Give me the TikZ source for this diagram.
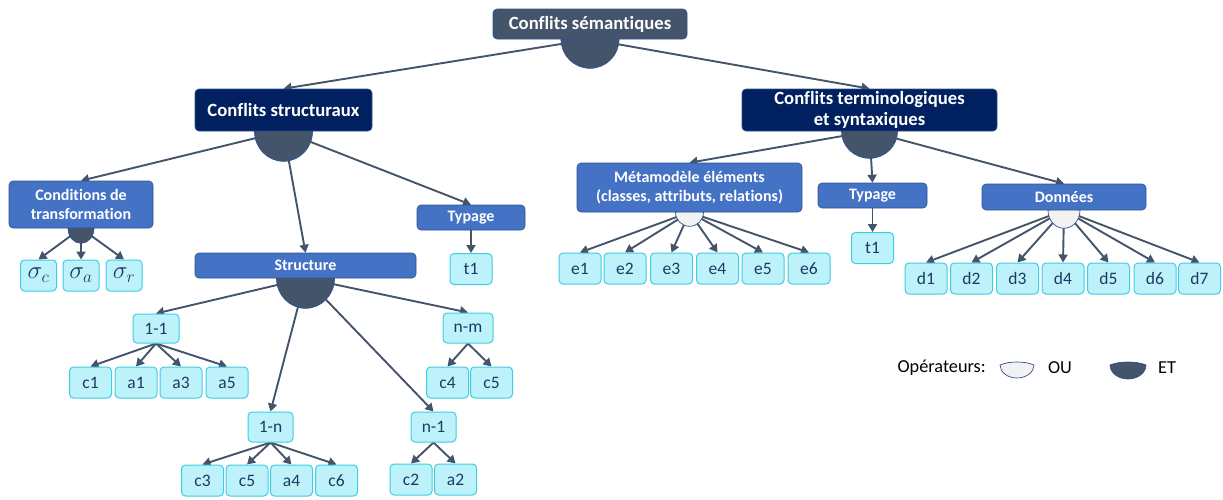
\documentclass[tikz,border=0pt]{standalone}
\usepackage{fontspec}
\setmainfont{Carlito}[Ligatures=NoCommon]
\usepackage{xcolor}
\usetikzlibrary{positioning}
\usetikzlibrary{arrows.meta}
\usetikzlibrary{backgrounds}

\definecolor{ardoise}{HTML}{44546A}
\definecolor{marine}{HTML}{002060}
\definecolor{bleu}{HTML}{4472C4}
\definecolor{bord}{HTML}{2F528F}
\definecolor{cyanclair}{HTML}{BEF2FA}
\definecolor{cyanbord}{HTML}{3ECDE6}
\definecolor{texte}{HTML}{1F3864}
\definecolor{gris}{HTML}{F2F2F2}

\begin{document}
\begin{tikzpicture}[x=1pt, y=-1pt]
	\tikzstyle{boite} = [draw=bord, rounded corners=4pt, inner sep=0pt, align=center, line width=0.6pt]
	\tikzstyle{racine} = [boite, fill=ardoise, text=white, font=\bfseries\fontsize{18.7}{21}\selectfont]
	\tikzstyle{conflit} = [boite, fill=marine, text=white, font=\bfseries\fontsize{18.7}{21}\selectfont]
	\tikzstyle{categorie} = [boite, fill=bleu, text=white, font=\bfseries\fontsize{16}{19.5}\selectfont]
	\tikzstyle{feuille} = [boite, draw=cyanbord, fill=cyanclair, text=texte, line width=1pt, minimum width=42pt, minimum height=31pt, font=\fontsize{17.5}{20}\selectfont]
	\tikzstyle{sigma} = [feuille, minimum width=36pt, font=\fontsize{23}{26}\selectfont]
	\tikzstyle{fleche} = [-{Triangle[length=8pt, width=9pt]}, draw=ardoise, line width=1.9pt]
	\tikzstyle{legende} = [font=\fontsize{18.3}{21}\selectfont]
	\tikzset{pics/operateur/.style n args={4}{code={
		\draw[fill=#4, draw=bord, line width=0.7pt] (-#1,0) .. controls (-#1/2,-#3) and (#1/2,-#3) .. (#1,0)
			arc[start angle=0, end angle=180, x radius=#1, y radius=#2] -- cycle;}}}

	\useasboundingbox (0,0) rectangle (1223,499);

	% niveaux superieurs
	\node [racine, minimum width=194pt, minimum height=30pt] (semant) at (590,24) {Conflits sémantiques};
	\node [conflit, minimum width=177pt, minimum height=42pt] (struct) at (283.5,110) {Conflits structuraux};
	\node [conflit, minimum width=255pt, minimum height=42pt] (termino) at (869.5,110) {Conflits terminologiques\\et syntaxiques};

	% conflits structuraux
	\node [categorie, minimum width=144pt, minimum height=47pt] (condit) at (81,204.5) {Conditions de\\transformation};
	\node [categorie, minimum width=221pt, minimum height=25pt] (structure) at (305.5,265.5) {Structure};
	\node [categorie, minimum width=108pt, minimum height=25pt] (typage) at (471,217.5) {Typage};

	\node [sigma] (sigc) at (38.5,275.5) {$\sigma_c$};
	\node [sigma] (siga) at (81,275.5) {$\sigma_a$};
	\node [sigma] (sigr) at (124,275.5) {$\sigma_r$};
	\node [feuille] (t1) at (471,269) {t1};

	\node [feuille, minimum width=46pt, minimum height=29pt] (n11) at (156,328.5) {1-1};
	\node [feuille, minimum width=45pt, minimum height=30pt] (n1n) at (270.5,427) {1-n};
	\node [feuille, minimum width=45pt, minimum height=30pt] (nn1) at (433.5,427) {n-1};
	\node [feuille, minimum width=50pt, minimum height=30pt] (nnm) at (468,328) {n-m};

	\node [feuille] (c1) at (90.5,382.5) {c1};
	\node [feuille] (a1) at (136,382.5) {a1};
	\node [feuille] (a3) at (181,382.5) {a3};
	\node [feuille] (a5) at (227,382.5) {a5};
	\node [feuille] (c3) at (202.5,480.5) {c3};
	\node [feuille] (c5) at (247,480.5) {c5};
	\node [feuille] (a4) at (291.5,480.5) {a4};
	\node [feuille] (c6) at (336.5,480.5) {c6};
	\node [feuille] (c2) at (411,479.5) {c2};
	\node [feuille] (a2) at (455.5,479.5) {a2};
	\node [feuille] (c4) at (447.5,382.5) {c4};
	\node [feuille] (c5b) at (491.5,382.5) {c5};

	% conflits terminologiques
	\node [categorie, minimum width=225pt, minimum height=49pt] (metamod) at (689.5,187.5) {Métamodèle éléments\\(classes, attributs, relations)};
	\node [categorie, minimum width=109pt, minimum height=25pt] (typage2) at (872.5,195.5) {Typage};
	\node [categorie, minimum width=164pt, minimum height=26pt] (donnees) at (1064,197) {Données};
	\node [feuille] (t1b) at (872.5,248) {t1};
	\foreach \x [count=\i] in {580,625,671.5,717.5,763,809}
		\node [feuille] (e\i) at (\x,268.5) {e\i};
	\foreach \x [count=\i] in {926,971.5,1017.5,1063,1108.5,1155,1199.5}
		\node [feuille] (d\i) at (\x,278.5) {d\i};

	% operateurs
	\coordinate (opSem) at (semant.south);
	\coordinate (opStruct) at (struct.south);
	\coordinate (opTermino) at (termino.south);
	\coordinate (opCondit) at (condit.south);
	\coordinate (opStructure) at (structure.south);
	\coordinate (opMeta) at (metamod.south);
	\coordinate (opDonnees) at (donnees.south);

	\begin{scope}[on background layer]
		\path [fleche] (opSem) -- (struct.north);
		\path [fleche] (opSem) -- (termino.north);
		\path [fleche] (opStruct) -- (condit.north);
		\path [fleche] (opStruct) -- (structure.north);
		\path [fleche] (opStruct) -- (typage.north);
		\path [fleche] (typage) -- (t1);
		\foreach \f in {sigc,siga,sigr}
			\path [fleche] (opCondit) -- (\f.north);
		\foreach \f in {n11,n1n,nn1,nnm}
			\path [fleche] (opStructure) -- (\f.north);
		\foreach \f in {c1,a1,a3,a5}
			\path [fleche] (n11.south) -- (\f.north);
		\foreach \f in {c3,c5,a4,c6}
			\path [fleche] (n1n.south) -- (\f.north);
		\foreach \f in {c2,a2}
			\path [fleche] (nn1.south) -- (\f.north);
		\foreach \f in {c4,c5b}
			\path [fleche] (nnm.south) -- (\f.north);
		\path [fleche] (opTermino) -- (metamod.north);
		\path [fleche] (opTermino) -- (typage2.north);
		\path [fleche] (opTermino) -- (donnees.north);
		\path [fleche] (typage2) -- (t1b);
		\foreach \i in {1,...,6}
			\path [fleche] (opMeta) -- (e\i.north);
		\foreach \i in {1,...,7}
			\path [fleche] (opDonnees) -- (d\i.north);

		\pic at (opSem) {operateur={29}{29}{4}{ardoise}};
		\pic at (opStruct) {operateur={29}{30}{4}{ardoise}};
		\pic at (opTermino) {operateur={28}{27}{4}{ardoise}};
		\pic at (opCondit) {operateur={13}{15}{3}{ardoise}};
		\pic at (opStructure) {operateur={29}{30}{4}{ardoise}};
		\pic at (opMeta) {operateur={14}{14}{3}{gris}};
		\pic at (opDonnees) {operateur={16}{18}{3}{gris}};
	\end{scope}

	% legende
	\node [legende, anchor=west] (operateurs) at (894,368) {Opérateurs:};
	\pic at (1017,365) {operateur={17}{13}{4}{gris}};
	\node [legende] (ou) at (1060,368) {OU};
	\pic at (1128,365) {operateur={18}{14}{4}{ardoise}};
	\node [legende] (et) at (1167,368) {ET};
\end{tikzpicture}
\end{document}
